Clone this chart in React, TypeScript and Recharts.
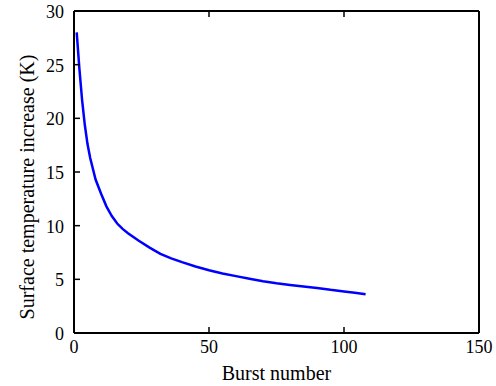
import React from "react";
import { LineChart, Line, XAxis, YAxis } from "recharts";

// burst number vs. surface temperature increase (K)
const bursts = [1, 2, 3, 4, 5, 6, 8, 10, 12, 14, 16, 18, 20, 24, 28, 32, 36, 40, 45, 50, 55, 60, 65, 70, 75, 80, 85, 90, 95, 100, 104, 108];
const tempRise = [28.0, 24.6, 21.7, 19.4, 17.6, 16.3, 14.3, 13.0, 11.8, 10.9, 10.2, 9.7, 9.3, 8.6, 7.95, 7.38, 6.95, 6.6, 6.2, 5.85, 5.55, 5.3, 5.05, 4.82, 4.63, 4.47, 4.33, 4.2, 4.02, 3.87, 3.75, 3.62];
const xTicks = [0, 50, 100, 150];
const yTicks = [0, 5, 10, 15, 20, 25, 30];

const data = bursts.map((b, i) => ({ burst: b, temp: tempRise[i] }));

const FONT = "'Liberation Serif', 'Times New Roman', serif";
const TICK_LEN = 6;

// matlab style: ticks point into the box
const renderBottomTick = ({ x, y, payload }: any) => (
    <g>
        <line x1={x} x2={x} y1={y} y2={y - TICK_LEN} stroke="#000" strokeWidth={1.5} />
        <text x={x} y={y + 20} textAnchor="middle" style={{ fontFamily: FONT, fontSize: 18 }} fill="#000">
            {payload.value}
        </text>
    </g>
);

const renderTopTick = ({ x, y }: any) => (
    <line x1={x} x2={x} y1={y} y2={y + TICK_LEN} stroke="#000" strokeWidth={1.5} />
);

const renderLeftTick = ({ x, y, payload }: any) => (
    <g>
        <line x1={x} x2={x + TICK_LEN} y1={y} y2={y} stroke="#000" strokeWidth={1.5} />
        <text x={x - 10} y={y + 7} textAnchor="end" style={{ fontFamily: FONT, fontSize: 18 }} fill="#000">
            {payload.value}
        </text>
    </g>
);

const renderRightTick = ({ x, y }: any) => (
    <line x1={x} x2={x - TICK_LEN} y1={y} y2={y} stroke="#000" strokeWidth={1.5} />
);

const XLabel = ({ viewBox }: any) => (
    <text
        x={viewBox.x + viewBox.width / 2}
        y={viewBox.y + 47}
        textAnchor="middle"
        style={{ fontFamily: FONT, fontSize: 20 }}
        fill="#000"
    >
        Burst number
    </text>
);

const YLabel = ({ viewBox }: any) => {
    const cx = viewBox.x + 34;
    const cy = viewBox.y + viewBox.height / 2 + 15;
    return (
        <text
            x={cx}
            y={cy}
            transform={`rotate(-90, ${cx}, ${cy})`}
            textAnchor="middle"
            style={{ fontFamily: FONT, fontSize: 20 }}
            fill="#000"
        >
            Surface temperature increase (K)
        </text>
    );
};

export default function App() {
    const axisLine = { stroke: "#000", strokeWidth: 2 };
    return (
        <div style={{ position: "absolute", left: 0, top: 0, background: "#fff" }}>
            <LineChart width={496} height={386} data={data} margin={{ top: 10, right: 16, left: 0, bottom: 0 }}>
                <XAxis
                    dataKey="burst"
                    type="number"
                    domain={[0, 150]}
                    ticks={xTicks}
                    height={53}
                    tickSize={0}
                    tickMargin={0}
                    tickLine={false}
                    axisLine={axisLine}
                    tick={renderBottomTick}
                    label={<XLabel />}
                />
                <XAxis
                    xAxisId="top"
                    orientation="top"
                    dataKey="burst"
                    type="number"
                    domain={[0, 150]}
                    ticks={xTicks}
                    height={1}
                    tickSize={0}
                    tickMargin={0}
                    tickLine={false}
                    axisLine={axisLine}
                    tick={renderTopTick}
                />
                <YAxis
                    type="number"
                    domain={[0, 30]}
                    ticks={yTicks}
                    width={74}
                    tickSize={0}
                    tickMargin={0}
                    tickLine={false}
                    axisLine={axisLine}
                    tick={renderLeftTick}
                    label={<YLabel />}
                />
                <YAxis
                    yAxisId="right"
                    orientation="right"
                    type="number"
                    domain={[0, 30]}
                    ticks={yTicks}
                    width={1}
                    tickSize={0}
                    tickMargin={0}
                    tickLine={false}
                    axisLine={axisLine}
                    tick={renderRightTick}
                />
                <Line
                    type="linear"
                    dataKey="temp"
                    stroke="#0000ff"
                    strokeWidth={2.5}
                    dot={false}
                    isAnimationActive={false}
                />
            </LineChart>
        </div>
    );
}
